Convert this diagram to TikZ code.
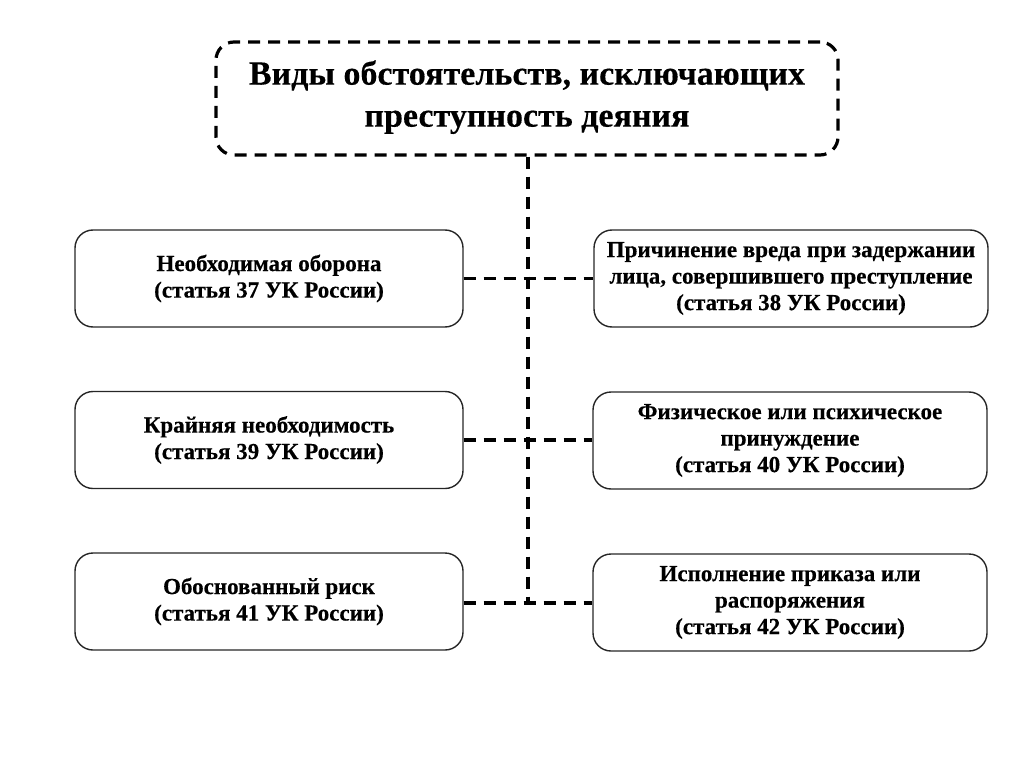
\documentclass[tikz,border=0pt]{standalone}
\usepackage{fontspec}
\setmainfont{Liberation Serif}[BoldFeatures={FakeBold=0.3}]
\begin{document}
\begin{tikzpicture}[x=1pt,y=-1pt,
  dline/.style={line width=3.4pt, dash pattern=on 12pt off 8pt},
  topbox/.style={draw, line width=3.2pt, dash pattern=on 12pt off 8pt, rounded corners=18pt, minimum width=622pt, minimum height=113pt, align=center, font=\bfseries\fontsize{34}{42}\selectfont},
  itembox/.style={draw=black!85, line width=1.4pt, rounded corners=18pt, minimum height=97pt, align=center, font=\bfseries\fontsize{23}{26.5}\selectfont},
  lbox/.style={itembox, minimum width=388pt},
  rbox/.style={itembox, minimum width=394pt}]
\useasboundingbox (0,0) rectangle (1024,767);
\node[topbox, text depth=10pt] (top) at (527,98.5) {Виды обстоятельств, исключающих\\преступность деяния};
\node[lbox] (l1) at (269,278.5) {Необходимая оборона\\(статья 37 УК России)};
\node[lbox] (l2) at (269,440) {Крайняя необходимость\\(статья 39 УК России)};
\node[lbox] (l3) at (269,601.5) {Обоснованный риск\\(статья 41 УК России)};
\node[rbox] (r1) at (791,278.5) {Причинение вреда при задержании\\лица, совершившего преступление\\(статья 38 УК России)};
\node[rbox] (r2) at (790,440.5) {Физическое или психическое\\принуждение\\(статья 40 УК России)};
\node[rbox] (r3) at (790,602.5) {Исполнение приказа или\\распоряжения\\(статья 42 УК России)};
\coordinate (bot) at (528,603);
\draw[dline] (top.south -| bot) -- (bot);
\draw[dline] (l1.east) -- (r1.west |- l1.east);
\draw[dline] (l2.east) -- (r2.west |- l2.east);
\draw[dline] (l3.east |- bot) -- (r3.west |- bot);
\end{tikzpicture}
\end{document}
